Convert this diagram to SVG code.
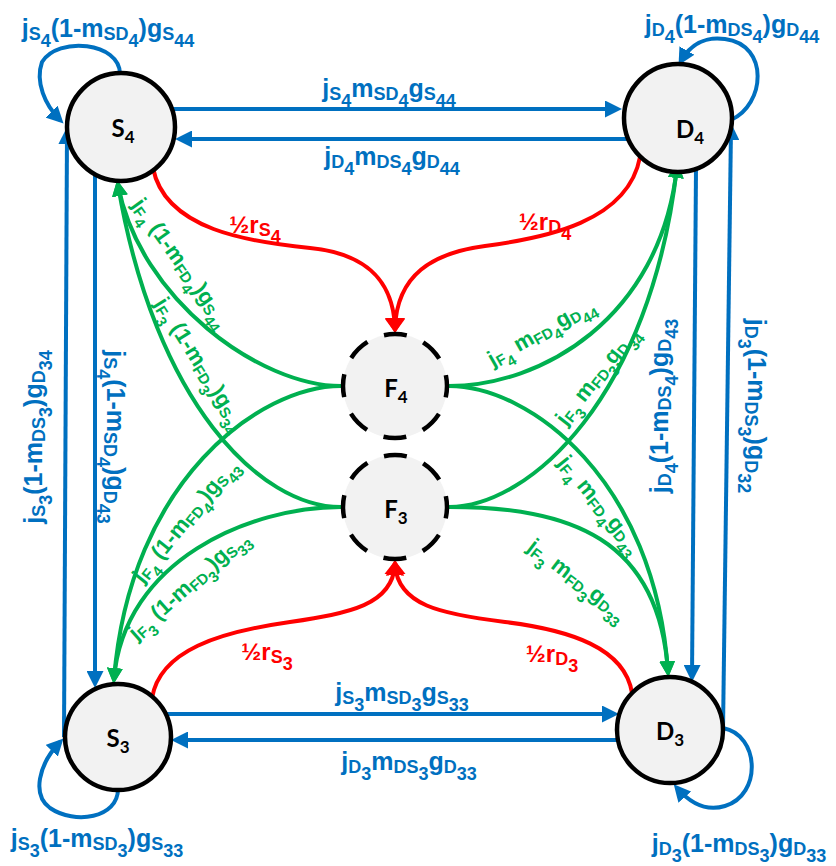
<svg xmlns="http://www.w3.org/2000/svg" width="836" height="866" viewBox="0 0 836 866">
<defs>
<style>
.lb{fill:none;stroke:#0070C0;stroke-width:4}
.lg{fill:none;stroke:#00B050;stroke-width:4}
.lr{fill:none;stroke:#FF0000;stroke-width:4}
.nd{fill:#F2F2F2;stroke:#000;stroke-width:4.5}
.nf{fill:#F2F2F2;stroke:#000;stroke-width:4.5;stroke-dasharray:23 17.84;stroke-dashoffset:11.5}
.tn{font-family:Lato,"Liberation Sans",sans-serif;font-weight:bold;font-size:24px;fill:#000;text-anchor:middle}
.tn .s{font-size:17px}
.tb{font-family:"Liberation Sans",Arial,sans-serif;font-weight:bold;font-size:25px;fill:#0070C0;text-anchor:middle}
.tb .s{font-size:18px}
.tg{font-family:"Liberation Sans",Arial,sans-serif;font-weight:bold;font-size:22px;fill:#00B050;text-anchor:middle}
.tg .s{font-size:15px}
.tr{font-family:"Liberation Sans",Arial,sans-serif;font-weight:bold;font-size:24px;fill:#FF0000;text-anchor:middle}
.tr .s{font-size:18px}
</style>
<marker id="ab" viewBox="0 0 17 17" refX="12" refY="8.5" markerWidth="17" markerHeight="17" markerUnits="userSpaceOnUse" orient="auto"><path d="M0,0 L17,8.5 L0,17 z" fill="#0070C0"/></marker>
<marker id="ag" viewBox="0 0 16 16" refX="11" refY="8" markerWidth="16" markerHeight="16" markerUnits="userSpaceOnUse" orient="auto"><path d="M0,0 L16,8 L0,16 z" fill="#00B050"/></marker>
<marker id="ar" viewBox="0 0 15 20" refX="10" refY="10" markerWidth="15" markerHeight="20" markerUnits="userSpaceOnUse" orient="auto"><path d="M0,0 L15,10 L0,20 z" fill="#FF0000"/></marker>
</defs>

<g id="connectors">
  <!-- blue transfers between S and D nodes -->
  <path class="lb" d="M172,109 L617,109" marker-end="url(#ab)"/>
  <path class="lb" d="M628,139 L180,139" marker-end="url(#ab)"/>
  <path class="lb" d="M166,714 L614,714" marker-end="url(#ab)"/>
  <path class="lb" d="M620,740 L176,740" marker-end="url(#ab)"/>
  <path class="lb" d="M64,737 L67,132" marker-end="url(#ab)"/>
  <path class="lb" d="M95,174 L95,683" marker-end="url(#ab)"/>
  <path class="lb" d="M696,169 L692,677" marker-end="url(#ab)"/>
  <path class="lb" d="M723,730 L731,128" marker-end="url(#ab)"/>
  <!-- self loops -->
  <path class="lb" d="M120,74 C120,42 58,36 42,62 C35,82 45,105 60,120" marker-end="url(#ab)"/>
  <path class="lb" d="M731,120 C765,105 770,45 725,39 C705,36 690,45 681,61" marker-end="url(#ab)"/>
  <path class="lb" d="M118,789 C118,818 75,825 50,808 C32,795 38,765 60,742" marker-end="url(#ab)"/>
  <path class="lb" d="M723,728 C760,735 762,795 725,806 C705,812 690,803 677,788" marker-end="url(#ab)"/>
  <!-- red flows into F nodes -->
  <path class="lr" d="M153,168 C165,230 250,242 310,248 C360,253 393,275 395,328" marker-end="url(#ar)"/>
  <path class="lr" d="M640,157 C628,222 545,238 485,246 C432,253 397,275 395,328" marker-end="url(#ar)"/>
  <path class="lr" d="M152,698 C160,650 220,632 290,622 C350,613 392,605 395,565" marker-end="url(#ar)"/>
  <path class="lr" d="M632,693 C625,648 570,630 505,622 C440,614 398,605 395,565" marker-end="url(#ar)"/>
  <!-- green flows out of F nodes -->
  <path class="lg" d="M341,386 C260,386 140,300 118,185" marker-end="url(#ag)"/>
  <path class="lg" d="M341,386 C260,386 130,480 114,679" marker-end="url(#ag)"/>
  <path class="lg" d="M341,507 C260,507 155,403 118,185" marker-end="url(#ag)"/>
  <path class="lg" d="M341,507 C250,507 124,560 114,679" marker-end="url(#ag)"/>
  <path class="lg" d="M449,386 C540,386 660,320 677,167" marker-end="url(#ag)"/>
  <path class="lg" d="M449,386 C530,386 655,480 668,672" marker-end="url(#ag)"/>
  <path class="lg" d="M449,507 C530,507 651,396 677,167" marker-end="url(#ag)"/>
  <path class="lg" d="M449,507 C570,507 659,538 668,672" marker-end="url(#ag)"/>
</g>

<g id="labels">
  <!-- blue corner loop labels -->
  <text class="tb" x="108" y="37">j<tspan class="s" dy="3">S</tspan><tspan class="s" dy="7">4</tspan><tspan dy="-10">(1-m</tspan><tspan class="s" dy="3">SD</tspan><tspan class="s" dy="7">4</tspan><tspan dy="-10">)g</tspan><tspan class="s" dy="3">S</tspan><tspan class="s" dy="7">44</tspan></text>
  <text class="tb" x="732" y="33">j<tspan class="s" dy="3">D</tspan><tspan class="s" dy="7">4</tspan><tspan dy="-10">(1-m</tspan><tspan class="s" dy="3">DS</tspan><tspan class="s" dy="7">4</tspan><tspan dy="-10">)g</tspan><tspan class="s" dy="3">D</tspan><tspan class="s" dy="7">44</tspan></text>
  <text class="tb" x="97" y="847">j<tspan class="s" dy="3">S</tspan><tspan class="s" dy="7">3</tspan><tspan dy="-10">(1-m</tspan><tspan class="s" dy="3">SD</tspan><tspan class="s" dy="7">3</tspan><tspan dy="-10">)g</tspan><tspan class="s" dy="3">S</tspan><tspan class="s" dy="7">33</tspan></text>
  <text class="tb" x="739" y="852">j<tspan class="s" dy="3">D</tspan><tspan class="s" dy="7">3</tspan><tspan dy="-10">(1-m</tspan><tspan class="s" dy="3">DS</tspan><tspan class="s" dy="7">3</tspan><tspan dy="-10">)g</tspan><tspan class="s" dy="3">D</tspan><tspan class="s" dy="7">33</tspan></text>
  <!-- blue horizontal labels -->
  <text class="tb" x="389" y="97">j<tspan class="s" dy="3">S</tspan><tspan class="s" dy="7">4</tspan><tspan dy="-10">m</tspan><tspan class="s" dy="3">SD</tspan><tspan class="s" dy="7">4</tspan><tspan dy="-10">g</tspan><tspan class="s" dy="3">S</tspan><tspan class="s" dy="7">44</tspan></text>
  <text class="tb" x="392" y="165">j<tspan class="s" dy="3">D</tspan><tspan class="s" dy="7">4</tspan><tspan dy="-10">m</tspan><tspan class="s" dy="3">DS</tspan><tspan class="s" dy="7">4</tspan><tspan dy="-10">g</tspan><tspan class="s" dy="3">D</tspan><tspan class="s" dy="7">44</tspan></text>
  <text class="tb" x="402" y="701">j<tspan class="s" dy="3">S</tspan><tspan class="s" dy="7">3</tspan><tspan dy="-10">m</tspan><tspan class="s" dy="3">SD</tspan><tspan class="s" dy="7">3</tspan><tspan dy="-10">g</tspan><tspan class="s" dy="3">S</tspan><tspan class="s" dy="7">33</tspan></text>
  <text class="tb" x="409" y="770">j<tspan class="s" dy="3">D</tspan><tspan class="s" dy="7">3</tspan><tspan dy="-10">m</tspan><tspan class="s" dy="3">DS</tspan><tspan class="s" dy="7">3</tspan><tspan dy="-10">g</tspan><tspan class="s" dy="3">D</tspan><tspan class="s" dy="7">33</tspan></text>
  <!-- blue vertical labels -->
  <text class="tb" transform="translate(42,437) rotate(-90)">j<tspan class="s" dy="3">S</tspan><tspan class="s" dy="7">3</tspan><tspan dy="-10">(1-m</tspan><tspan class="s" dy="3">DS</tspan><tspan class="s" dy="7">3</tspan><tspan dy="-10">)g</tspan><tspan class="s" dy="3">D</tspan><tspan class="s" dy="7">34</tspan></text>
  <text class="tb" transform="translate(107,437) rotate(90)">j<tspan class="s" dy="3">S</tspan><tspan class="s" dy="7">4</tspan><tspan dy="-10">(1-m</tspan><tspan class="s" dy="3">SD</tspan><tspan class="s" dy="7">4</tspan><tspan dy="-10">)g</tspan><tspan class="s" dy="3">D</tspan><tspan class="s" dy="7">43</tspan></text>
  <text class="tb" transform="translate(668,406) rotate(-90)">j<tspan class="s" dy="3">D</tspan><tspan class="s" dy="7">4</tspan><tspan dy="-10">(1-m</tspan><tspan class="s" dy="3">DS</tspan><tspan class="s" dy="7">4</tspan><tspan dy="-10">)g</tspan><tspan class="s" dy="3">D</tspan><tspan class="s" dy="7">43</tspan></text>
  <text class="tb" transform="translate(748,406) rotate(90)">j<tspan class="s" dy="3">D</tspan><tspan class="s" dy="7">3</tspan><tspan dy="-10">(1-m</tspan><tspan class="s" dy="3">DS</tspan><tspan class="s" dy="7">3</tspan><tspan dy="-10">)g</tspan><tspan class="s" dy="3">D</tspan><tspan class="s" dy="7">32</tspan></text>
  <!-- red labels -->
  <text class="tr" x="255" y="233">½r<tspan class="s" dy="3">S</tspan><tspan class="s" dy="7">4</tspan></text>
  <text class="tr" x="545" y="230">½r<tspan class="s" dy="3">D</tspan><tspan class="s" dy="7">4</tspan></text>
  <text class="tr" x="267" y="660">½r<tspan class="s" dy="3">S</tspan><tspan class="s" dy="7">3</tspan></text>
  <text class="tr" x="552" y="662">½r<tspan class="s" dy="3">D</tspan><tspan class="s" dy="7">3</tspan></text>
  <!-- green labels -->
  <text class="tg" transform="translate(178,265) rotate(54.5)" y="3">j<tspan class="s" dy="3">F</tspan><tspan class="s" dy="6">4</tspan><tspan dy="-9"> (1-m</tspan><tspan class="s" dy="3">FD</tspan><tspan class="s" dy="6">4</tspan><tspan dy="-9">)g</tspan><tspan class="s" dy="3">S</tspan><tspan class="s" dy="6">44</tspan></text>
  <text class="tg" transform="translate(197,366) rotate(58)" y="3">j<tspan class="s" dy="3">F</tspan><tspan class="s" dy="6">3</tspan><tspan dy="-9"> (1-m</tspan><tspan class="s" dy="3">FD</tspan><tspan class="s" dy="6">3</tspan><tspan dy="-9">)g</tspan><tspan class="s" dy="3">S</tspan><tspan class="s" dy="6">34</tspan></text>
  <text class="tg" transform="translate(188,523) rotate(-51)" y="3">j<tspan class="s" dy="3">F</tspan><tspan class="s" dy="6">4</tspan><tspan dy="-9"> (1-m</tspan><tspan class="s" dy="3">FD</tspan><tspan class="s" dy="6">4</tspan><tspan dy="-9">)g</tspan><tspan class="s" dy="3">S</tspan><tspan class="s" dy="6">43</tspan></text>
  <text class="tg" transform="translate(191,588) rotate(-42)" y="3">j<tspan class="s" dy="3">F</tspan><tspan class="s" dy="6">3</tspan><tspan dy="-9"> (1-m</tspan><tspan class="s" dy="3">FD</tspan><tspan class="s" dy="6">3</tspan><tspan dy="-9">)g</tspan><tspan class="s" dy="3">S</tspan><tspan class="s" dy="6">33</tspan></text>
  <text class="tg" transform="translate(543,335) rotate(-29.5)" y="3">j<tspan class="s" dy="3">F</tspan><tspan class="s" dy="6">4</tspan><tspan dy="-9"> m</tspan><tspan class="s" dy="3">FD</tspan><tspan class="s" dy="6">4</tspan><tspan dy="-9">g</tspan><tspan class="s" dy="3">D</tspan><tspan class="s" dy="6">44</tspan></text>
  <text class="tg" transform="translate(600,378) rotate(-52)" y="3">j<tspan class="s" dy="3">F</tspan><tspan class="s" dy="6">3</tspan><tspan dy="-9"> m</tspan><tspan class="s" dy="3">FD</tspan><tspan class="s" dy="6">3</tspan><tspan dy="-9">g</tspan><tspan class="s" dy="3">D</tspan><tspan class="s" dy="6">34</tspan></text>
  <text class="tg" transform="translate(597,507) rotate(51)" y="3">j<tspan class="s" dy="3">F</tspan><tspan class="s" dy="6">4</tspan><tspan dy="-9"> m</tspan><tspan class="s" dy="3">FD</tspan><tspan class="s" dy="6">4</tspan><tspan dy="-9">g</tspan><tspan class="s" dy="3">D</tspan><tspan class="s" dy="6">43</tspan></text>
  <text class="tg" transform="translate(575,583) rotate(37.6)" y="3">j<tspan class="s" dy="3">F</tspan><tspan class="s" dy="6">3</tspan><tspan dy="-9"> m</tspan><tspan class="s" dy="3">FD</tspan><tspan class="s" dy="6">3</tspan><tspan dy="-9">g</tspan><tspan class="s" dy="3">D</tspan><tspan class="s" dy="6">33</tspan></text>
</g>

<g id="S4"><circle class="nd" cx="121" cy="127" r="54"/><text class="tn" x="123" y="137">S<tspan class="s" dy="6">4</tspan></text></g>
<g id="D4"><circle class="nd" cx="678" cy="118" r="54"/><text class="tn" x="690" y="138">D<tspan class="s" dy="6">4</tspan></text></g>
<g id="S3"><circle class="nd" cx="118" cy="737" r="53"/><text class="tn" x="118" y="747">S<tspan class="s" dy="6">3</tspan></text></g>
<g id="D3"><circle class="nd" cx="670" cy="730" r="53"/><text class="tn" x="670" y="740">D<tspan class="s" dy="6">3</tspan></text></g>
<g id="F4"><circle class="nf" cx="395" cy="386" r="52"/><text class="tn" x="396" y="397">F<tspan class="s" dy="6">4</tspan></text></g>
<g id="F3"><circle class="nf" cx="395" cy="507" r="52"/><text class="tn" x="396" y="518">F<tspan class="s" dy="6">3</tspan></text></g>
</svg>
